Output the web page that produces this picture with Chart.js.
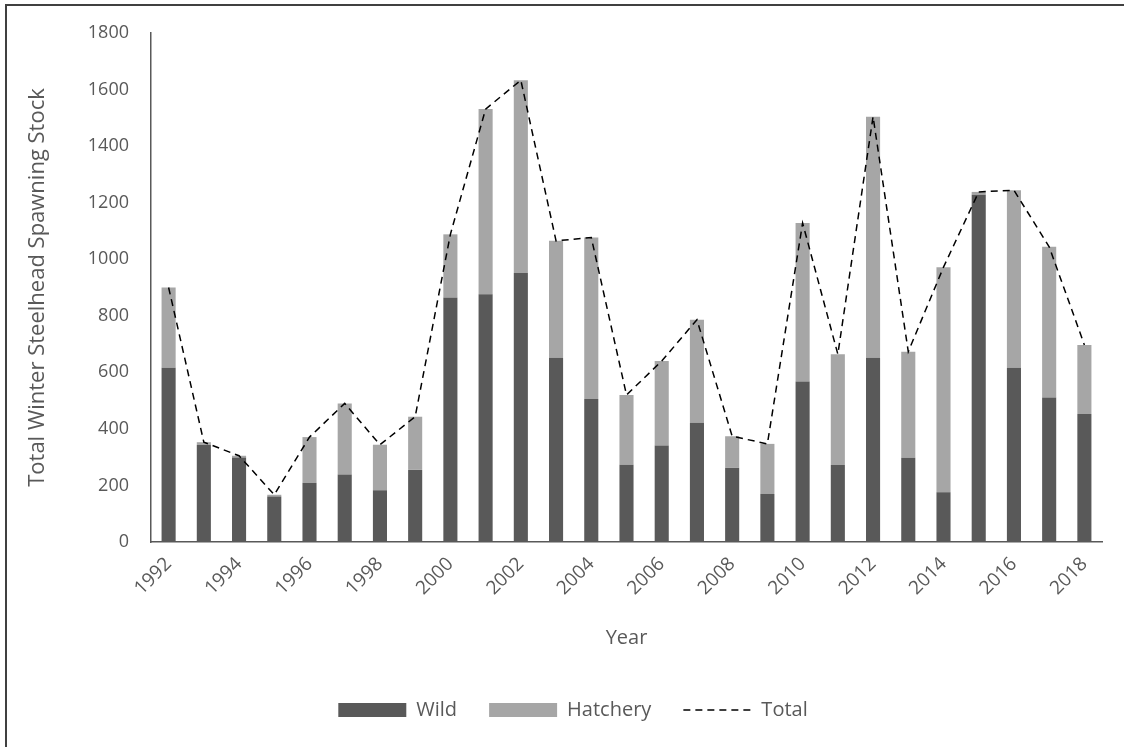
<!DOCTYPE html>
<html>
<head>
<meta charset="utf-8">
<script src="https://cdn.jsdelivr.net/npm/chart.js@4/dist/chart.umd.min.js"></script>
<style>
  html, body { margin: 0; padding: 0; background: #fff; }
  #wrap { width: 1124px; height: 747px; position: relative; }
</style>
</head>
<body>
<div id="wrap"><canvas id="myChart"></canvas></div>
<script>
var years = ['1992', '1993', '1994', '1995', '1996', '1997', '1998', '1999', '2000', '2001',
             '2002', '2003', '2004', '2005', '2006', '2007', '2008', '2009', '2010', '2011',
             '2012', '2013', '2014', '2015', '2016', '2017', '2018'];
var wild = [616, 343, 299, 161, 209, 239, 183, 255, 865, 876,
            951, 652, 506, 273, 341, 422, 263, 170, 568, 272,
            652, 298, 176, 1228, 616, 511, 453];
var hatchery = [284, 10, 6, 6, 162, 251, 161, 188, 223, 655,
                682, 413, 571, 247, 299, 364, 111, 177, 560, 392,
                852, 375, 796, 10, 628, 533, 244];
var total = [900, 353, 305, 167, 371, 490, 344, 443, 1088, 1531,
             1633, 1065, 1077, 520, 640, 786, 374, 347, 1128, 664,
             1504, 673, 972, 1238, 1244, 1044, 697];

var grey = '#595959';
var font = 'Open Sans';

// frame lines on top and left like the original picture
var frame = {
    id: 'frame',
    beforeDraw: function(chart) {
        var c = chart.ctx;
        c.save();
        c.fillStyle = '#fff';
        c.fillRect(0, 0, chart.width, chart.height);
        c.strokeStyle = '#404040';
        c.lineWidth = 2;
        c.beginPath();
        c.moveTo(6, chart.height);
        c.lineTo(6, 5);
        c.lineTo(chart.width, 5);
        c.stroke();
        c.restore();
    },
    // legend sits a little right of the page centre in the original
    afterLayout: function(chart) {
        chart.legend.left += 22;
        chart.legend.right += 22;
    }
};

var ctx = document.getElementById('myChart').getContext('2d');
var chart = new Chart(ctx, {
    type: 'bar',
    data: {
        labels: years,
        datasets: [{
            label: 'Wild',
            data: wild,
            backgroundColor: grey,
            stack: 'a',
            order: 1,
            pointStyle: 'rect',
            barPercentage: 0.4,
            categoryPercentage: 1
        }, {
            label: 'Hatchery',
            data: hatchery,
            backgroundColor: '#a6a6a6',
            stack: 'a',
            order: 2,
            pointStyle: 'rect',
            barPercentage: 0.4,
            categoryPercentage: 1
        }, {
            type: 'line',
            label: 'Total',
            data: total,
            stack: 'total',
            order: 0,
            borderColor: '#000',
            backgroundColor: '#000',
            borderWidth: 1.5,
            borderDash: [7, 5],
            pointRadius: 0,
            pointStyle: 'line',
            tension: 0
        }]
    },
    options: {
        responsive: true,
        maintainAspectRatio: false,
        animation: false,
        layout: { padding: { left: 0, right: 22, top: 33, bottom: 17 } },
        plugins: {
            tooltip: { enabled: false },
            legend: {
                position: 'bottom',
                labels: {
                    usePointStyle: true,
                    pointStyleWidth: 68,
                    boxHeight: 14,
                    padding: 32,
                    color: grey,
                    font: { family: font, size: 20 },
                    sort: function(a, b) { return a.datasetIndex - b.datasetIndex; },
                    generateLabels: function(ch) {
                        var items = Chart.defaults.plugins.legend.labels.generateLabels(ch);
                        items.forEach(function(it) {
                            if (it.datasetIndex === 2) {
                                it.lineDash = [7, 5];
                                it.lineWidth = 1.5;
                                it.strokeStyle = '#000';
                            }
                        });
                        return items;
                    }
                }
            }
        },
        scales: {
            x: {
                stacked: true,
                grid: { display: false },
                border: { display: true, color: grey, width: 1.5 },
                ticks: {
                    autoSkip: false,
                    maxRotation: 45,
                    minRotation: 45,
                    color: grey,
                    font: { family: font, size: 19 },
                    callback: function(v, i) { return i % 2 === 0 ? this.getLabelForValue(v) : ''; }
                },
                title: {
                    display: true,
                    text: 'Year',
                    color: grey,
                    font: { family: font, size: 20 },
                    padding: { top: 4, bottom: 18 }
                },
                afterFit: function(scale) { scale.height = 126; }
            },
            y: {
                stacked: true,
                min: 0,
                max: 1800,
                grid: { display: false },
                border: { display: true, color: grey, width: 1.5 },
                ticks: {
                    stepSize: 200,
                    padding: 14,
                    color: grey,
                    font: { family: font, size: 18 },
                    callback: function(v) { return String(v); }
                },
                title: {
                    display: true,
                    text: 'Total Winter Steelhead Spawning Stock',
                    color: grey,
                    font: { family: font, size: 22 },
                    padding: { top: 25, bottom: 4 }
                },
                afterFit: function(scale) { scale.width = 151; }
            }
        }
    },
    plugins: [frame]
});
</script>
</body>
</html>
